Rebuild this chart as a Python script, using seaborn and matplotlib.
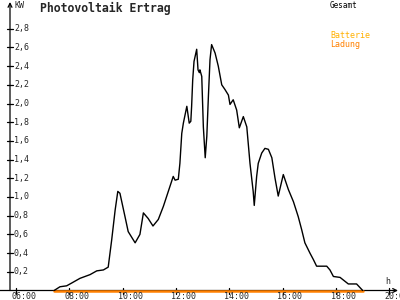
import matplotlib
matplotlib.use("Agg")
import matplotlib.pyplot as plt
import seaborn as sns
import pandas as pd

# --- data (hours of day, kW) ---
hours = [7.43, 7.65, 7.90, 8.09, 8.40, 8.78, 9.03, 9.28, 9.46, 9.59, 9.72, 9.82,
         9.90, 10.09, 10.21, 10.47, 10.65, 10.78, 10.96, 11.14, 11.34, 11.53, 11.90,
         11.97, 12.09, 12.15, 12.22, 12.28, 12.41, 12.50, 12.56, 12.59, 12.63, 12.68,
         12.78, 12.83, 12.88, 12.90, 12.97, 13.03, 13.10, 13.16, 13.22, 13.28, 13.34,
         13.47, 13.59, 13.72, 13.84, 13.97, 14.03, 14.15, 14.28, 14.38, 14.53, 14.66,
         14.78, 14.90, 14.94, 15.03, 15.09, 15.22, 15.34, 15.47, 15.60, 15.72, 15.84,
         16.03, 16.22, 16.41, 16.59, 16.72, 16.84, 17.03, 17.16, 17.28, 17.66, 17.78,
         17.91, 18.16, 18.47, 18.78, 19.01]
gesamt = [0.00, 0.04, 0.05, 0.08, 0.13, 0.17, 0.21, 0.22, 0.25, 0.54, 0.86, 1.06,
          1.04, 0.79, 0.63, 0.51, 0.60, 0.83, 0.77, 0.69, 0.76, 0.90, 1.22,
          1.18, 1.19, 1.36, 1.68, 1.79, 1.97, 1.79, 1.81, 1.97, 2.25, 2.45,
          2.58, 2.36, 2.33, 2.36, 2.29, 1.75, 1.42, 1.65, 2.08, 2.47, 2.63,
          2.54, 2.40, 2.20, 2.15, 2.09, 1.99, 2.04, 1.93, 1.74, 1.86, 1.75,
          1.36, 1.06, 0.91, 1.22, 1.36, 1.47, 1.52, 1.51, 1.42, 1.20, 1.01,
          1.24, 1.08, 0.95, 0.79, 0.65, 0.51, 0.40, 0.33, 0.26, 0.26, 0.22,
          0.15, 0.14, 0.07, 0.07, 0.00]
ladung = [0.0] * len(hours)

y_ticks = [0.2, 0.4, 0.6, 0.8, 1.0, 1.2, 1.4, 1.6, 1.8, 2.0, 2.2, 2.4, 2.6, 2.8]
y_labels = ["0,2", "0,4", "0,6", "0,8", "1,0", "1,2", "1,4", "1,6", "1,8",
            "2,0", "2,2", "2,4", "2,6", "2,8"]
x_ticks = [6, 8, 10, 12, 14, 16, 18, 20]
x_labels = ["06:00", "08:00", "10:00", "12:00", "14:00", "16:00", "18:00", "20:00"]

title = "Photovoltaik Ertrag"
unit_y = "KW"
unit_x = "h"
legend_items = [("Gesamt", "black"), ("Batterie", "#FFB000"), ("Ladung", "#FF8000")]

df = pd.DataFrame({"h": hours, "gesamt": gesamt, "ladung": ladung})

sns.set_style("white")
plt.rcParams["font.family"] = ["DejaVu Sans Mono"]

fig = plt.figure(figsize=(4, 3), dpi=100)
ax = fig.add_axes([0, 0, 1, 1])

px_per_h = 26.65
x0_px = 16.0
px_per_kw = 93.5
y0_px = 290.5
ax.set_xlim(6 - x0_px / px_per_h, 6 + (400 - x0_px) / px_per_h)
ax.set_ylim(-(300 - y0_px) / px_per_kw, y0_px / px_per_kw)

for s in ax.spines.values():
    s.set_visible(False)
ax.set_xticks([])
ax.set_yticks([])

x_axis_h = 6 - 6 / px_per_h  # y axis position
# axes with arrows
ax.annotate("", xy=(x_axis_h, (y0_px - 2) / px_per_kw), xytext=(x_axis_h, 0),
            arrowprops=dict(arrowstyle="->", color="black", lw=0.9, mutation_scale=7,
                            shrinkA=0, shrinkB=0))
ax.annotate("", xy=(6 + (398 - x0_px) / px_per_h, 0),
            xytext=(6 - (x0_px + 2) / px_per_h, 0),
            arrowprops=dict(arrowstyle="->", color="black", lw=0.9, mutation_scale=7,
                            shrinkA=0, shrinkB=0))

sns.lineplot(data=df, x="h", y="ladung", ax=ax, color="#FF8000", lw=1.8, zorder=3)
sns.lineplot(data=df, x="h", y="gesamt", ax=ax, color="black", lw=1.0, zorder=4)
ax.set_xlabel("")
ax.set_ylabel("")

dx = 3 / px_per_h
dy = 3 / px_per_kw
for t, lab in zip(y_ticks, y_labels):
    ax.plot([x_axis_h - dx, x_axis_h + dx], [t, t], color="black", lw=0.9)
    ax.text(x_axis_h + 4 / px_per_h, t, lab, ha="left", va="center", fontsize=6)
for t, lab in zip(x_ticks, x_labels):
    ax.plot([t, t], [-dy, dy], color="black", lw=0.9)
    ax.text(t - 5 / px_per_h, -1.5 / px_per_kw, lab, ha="left", va="top", fontsize=6)

fig.text(14 / 400, 1 - 5 / 300, unit_y, ha="left", va="center", fontsize=6)
fig.text(40 / 400, 1 - 8 / 300, title, ha="left", va="center", fontsize=8.3,
         fontweight="bold")
fig.text(385 / 400, 1 - 282 / 300, unit_x, ha="left", va="center", fontsize=6)
fig.text(330 / 400, 1 - 5 / 300, legend_items[0][0], ha="left", va="center",
         fontsize=5.5, color=legend_items[0][1])
fig.text(330 / 400, 1 - 36 / 300, legend_items[1][0], ha="left", va="center",
         fontsize=6, color=legend_items[1][1])
fig.text(330 / 400, 1 - 44 / 300, legend_items[2][0], ha="left", va="center",
         fontsize=6, color=legend_items[2][1])

fig.savefig("out.png", dpi=100)
